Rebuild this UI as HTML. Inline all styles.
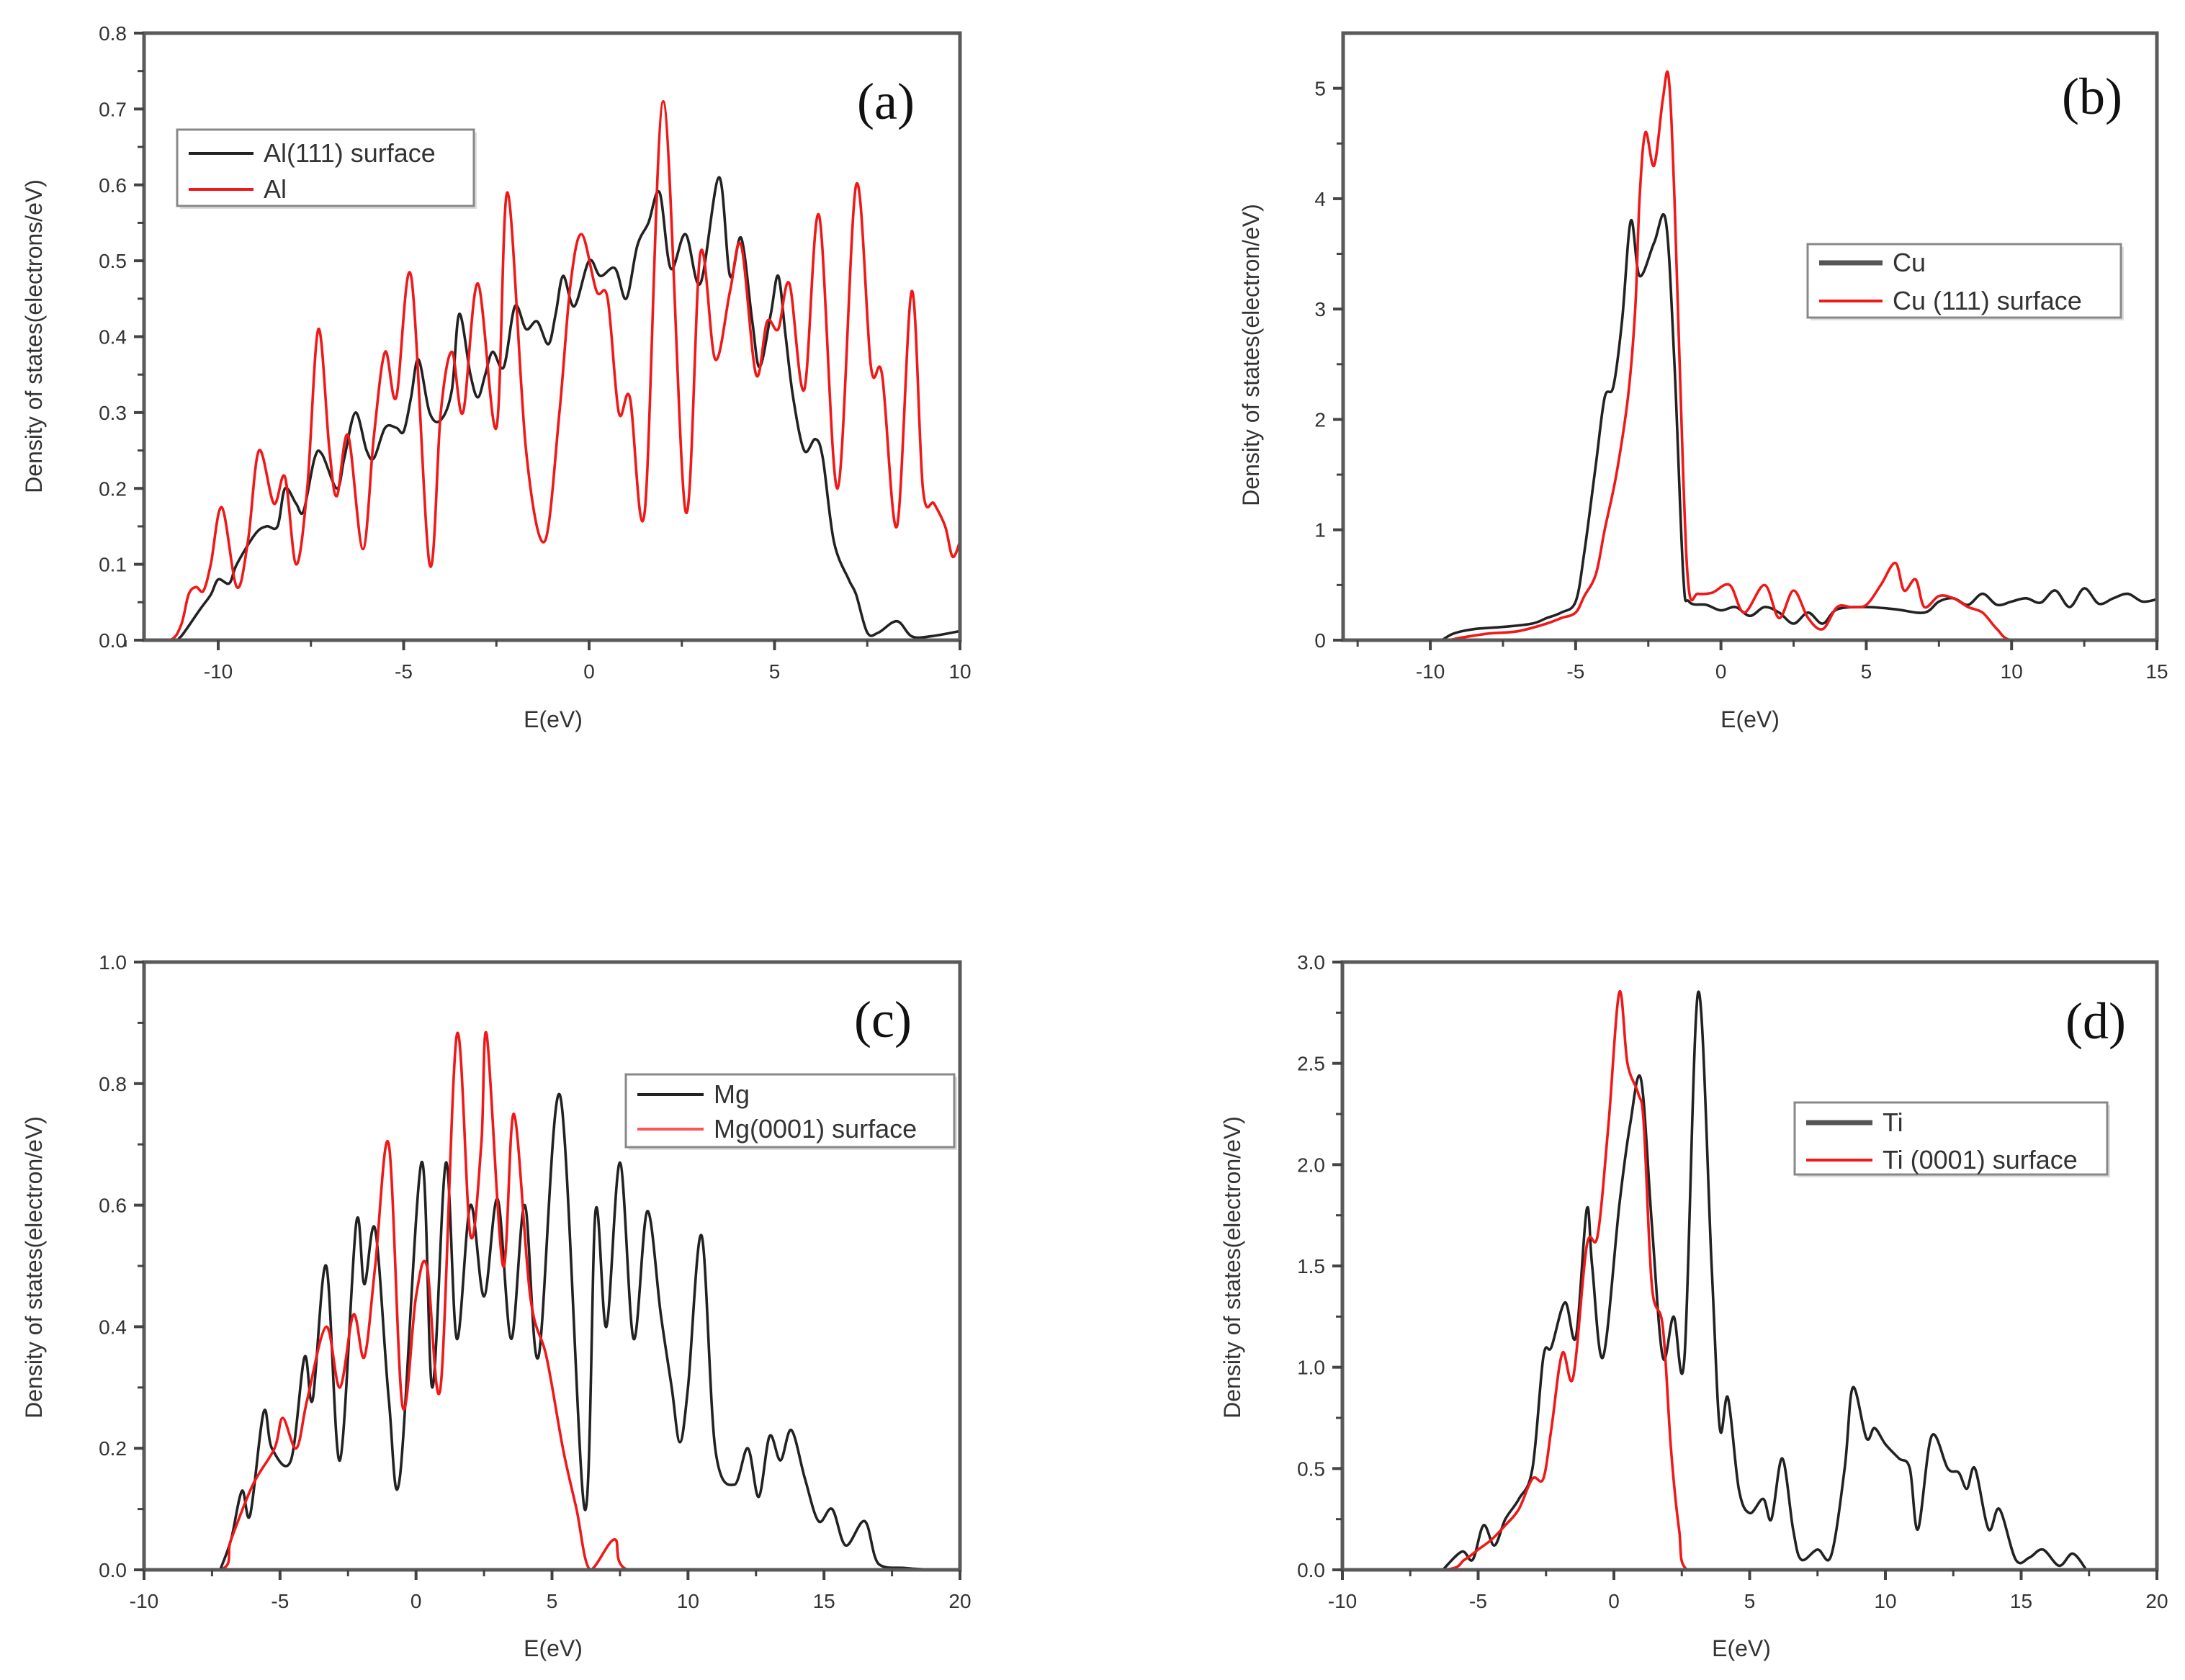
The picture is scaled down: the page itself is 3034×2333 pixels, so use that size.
<!DOCTYPE html>
<html><head><meta charset="utf-8">
<style>
html,body{margin:0;padding:0;background:#fff;}
svg{display:block;}
text{font-family:"Liberation Sans",sans-serif;fill:#333;}
</style></head>
<body>
<svg id="fig" width="3034" height="2333" viewBox="0 0 3034 2333" xmlns="http://www.w3.org/2000/svg"></svg>
<script>
// ---- Panel (a) data ----
const aBlack=[[-12,0],[-11.2,0],[-11,0.005],[-10.5,0.04],[-10.2,0.06],[-10,0.08],[-9.7,0.075],[-9.5,0.1],[-9,0.14],[-8.7,0.15],[-8.4,0.15],[-8.2,0.2],[-7.9,0.18],[-7.7,0.17],[-7.4,0.24],[-7.2,0.245],[-6.8,0.2],[-6.6,0.24],[-6.3,0.3],[-6,0.25],[-5.8,0.24],[-5.5,0.28],[-5.2,0.28],[-5,0.275],[-4.8,0.32],[-4.6,0.37],[-4.3,0.3],[-4,0.29],[-3.7,0.33],[-3.5,0.43],[-3.2,0.35],[-3,0.32],[-2.8,0.35],[-2.6,0.38],[-2.3,0.36],[-2,0.44],[-1.7,0.41],[-1.4,0.42],[-1.1,0.39],[-0.9,0.43],[-0.7,0.48],[-0.4,0.44],[0,0.5],[0.3,0.48],[0.7,0.49],[1,0.45],[1.3,0.52],[1.6,0.55],[1.9,0.59],[2.2,0.49],[2.6,0.535],[3,0.47],[3.5,0.61],[3.8,0.48],[4.1,0.53],[4.4,0.42],[4.6,0.36],[4.9,0.43],[5.1,0.48],[5.3,0.4],[5.5,0.32],[5.8,0.25],[6.1,0.265],[6.3,0.24],[6.6,0.13],[7,0.08],[7.2,0.06],[7.5,0.01],[7.8,0.01],[8.3,0.025],[8.7,0.005],[9.2,0.005],[10,0.012]];
const aRed=[[-12,0],[-11.3,0],[-11,0.02],[-10.8,0.06],[-10.6,0.07],[-10.4,0.065],[-10.2,0.1],[-9.9,0.175],[-9.5,0.07],[-9.2,0.13],[-8.9,0.25],[-8.5,0.18],[-8.2,0.215],[-7.9,0.1],[-7.6,0.2],[-7.3,0.41],[-7.0,0.25],[-6.8,0.19],[-6.5,0.27],[-6.1,0.12],[-5.8,0.27],[-5.5,0.38],[-5.2,0.32],[-4.8,0.48],[-4.3,0.1],[-4.0,0.3],[-3.7,0.38],[-3.4,0.3],[-3.0,0.47],[-2.5,0.28],[-2.2,0.59],[-1.7,0.25],[-1.2,0.13],[-0.8,0.3],[-0.5,0.47],[-0.2,0.535],[0.2,0.46],[0.5,0.45],[0.8,0.3],[1.1,0.32],[1.5,0.17],[2.0,0.71],[2.6,0.17],[3.0,0.51],[3.4,0.37],[3.8,0.46],[4.1,0.52],[4.5,0.35],[4.8,0.42],[5.1,0.41],[5.4,0.47],[5.8,0.33],[6.2,0.56],[6.7,0.2],[7.2,0.6],[7.6,0.36],[7.9,0.35],[8.3,0.15],[8.7,0.46],[9.0,0.2],[9.3,0.18],[9.6,0.15],[9.8,0.11],[10,0.13]];
const aXTicks=[-10,-5,0,5,10];
const aYTicks=["0.0","0.1","0.2","0.3","0.4","0.5","0.6","0.7","0.8"];
// ---- Panel (b) data ----
const bBlack=[[-9.6,0],[-9.2,0.06],[-8.5,0.1],[-7.5,0.12],[-6.5,0.15],[-6,0.2],[-5.5,0.25],[-5,0.35],[-4.7,0.8],[-4.3,1.6],[-4.0,2.2],[-3.7,2.3],[-3.4,2.9],[-3.1,3.8],[-2.8,3.3],[-2.3,3.6],[-1.9,3.8],[-1.6,2.5],[-1.3,0.6],[-1.1,0.35],[-0.5,0.32],[0,0.27],[0.5,0.3],[1,0.22],[1.5,0.3],[2,0.25],[2.5,0.15],[3,0.25],[3.5,0.15],[4,0.28],[5,0.3],[6,0.28],[7,0.25],[7.5,0.35],[8,0.38],[8.5,0.32],[9,0.42],[9.5,0.32],[10,0.35],[10.5,0.38],[11,0.34],[11.5,0.45],[12,0.3],[12.5,0.47],[13,0.33],[13.5,0.38],[14,0.42],[14.5,0.35],[15,0.37]];
const bRed=[[-11,0],[-9.5,0],[-9,0.02],[-8,0.06],[-7,0.08],[-6,0.15],[-5.5,0.2],[-5,0.25],[-4.7,0.4],[-4.3,0.6],[-4,1.0],[-3.6,1.5],[-3.2,2.2],[-2.95,3.0],[-2.8,4.0],[-2.6,4.6],[-2.3,4.3],[-2.0,4.9],[-1.8,5.1],[-1.6,4.0],[-1.3,1.5],[-1.1,0.45],[-0.8,0.42],[-0.3,0.43],[0.3,0.5],[0.8,0.25],[1.5,0.5],[2,0.2],[2.5,0.45],[3,0.2],[3.5,0.1],[4,0.3],[4.5,0.3],[5,0.32],[5.5,0.5],[6,0.7],[6.3,0.45],[6.7,0.55],[7,0.3],[7.5,0.4],[8,0.38],[8.5,0.3],[9,0.25],[9.5,0.1],[10,0],[11.5,0]];
const bXTicks=[-10,-5,0,5,10,15];
const bYTicks=["0","1","2","3","4","5"];
// ---- Panel (c) data ----
const cBlack=[[-7.2,0],[-6.8,0.05],[-6.4,0.13],[-6.1,0.09],[-5.6,0.26],[-5.3,0.2],[-4.6,0.18],[-4.1,0.35],[-3.8,0.28],[-3.3,0.5],[-2.8,0.18],[-2.2,0.57],[-1.9,0.47],[-1.5,0.56],[-1.0,0.28],[-0.6,0.15],[0.2,0.67],[0.6,0.3],[1.1,0.67],[1.5,0.38],[2,0.6],[2.5,0.45],[3,0.61],[3.5,0.38],[4,0.6],[4.5,0.35],[5.3,0.78],[6.2,0.1],[6.6,0.59],[7,0.4],[7.5,0.67],[8,0.38],[8.5,0.59],[9,0.42],[9.4,0.3],[9.7,0.21],[10,0.3],[10.5,0.55],[11,0.2],[11.7,0.14],[12.2,0.2],[12.6,0.12],[13,0.22],[13.4,0.18],[13.8,0.23],[14.3,0.15],[14.8,0.08],[15.3,0.1],[15.8,0.04],[16.5,0.08],[17,0.01],[18,0.003],[19,0]];
const cRed=[[-10,0],[-7.2,0],[-6.8,0.05],[-6,0.14],[-5.2,0.2],[-4.9,0.25],[-4.4,0.2],[-4,0.28],[-3.3,0.4],[-2.8,0.3],[-2.3,0.42],[-1.9,0.35],[-1.5,0.5],[-1.0,0.7],[-0.5,0.27],[0,0.45],[0.4,0.5],[0.9,0.3],[1.5,0.88],[2,0.55],[2.4,0.7],[2.6,0.88],[3.2,0.5],[3.6,0.75],[4.2,0.45],[4.8,0.35],[5.4,0.2],[5.9,0.1],[6.4,0.0],[7.3,0.05],[7.8,0],[11,0]];
const cXTicks=[-10,-5,0,5,10,15,20];
const cYTicks=["0.0","0.2","0.4","0.6","0.8","1.0"];
// ---- Panel (d) data ----
const dBlack=[[-6.3,0],[-5.6,0.09],[-5.2,0.05],[-4.8,0.22],[-4.4,0.12],[-4,0.25],[-3.5,0.35],[-3,0.5],[-2.6,1.05],[-2.3,1.1],[-1.8,1.32],[-1.4,1.15],[-1.0,1.78],[-0.8,1.5],[-0.4,1.05],[0.2,1.8],[0.6,2.2],[1.0,2.42],[1.4,1.7],[1.8,1.05],[2.2,1.25],[2.6,1.05],[3.1,2.85],[3.6,1.5],[3.9,0.7],[4.2,0.85],[4.6,0.4],[5,0.28],[5.5,0.35],[5.8,0.25],[6.2,0.55],[6.6,0.2],[6.9,0.05],[7.5,0.1],[8,0.07],[8.5,0.5],[8.8,0.9],[9.3,0.65],[9.6,0.7],[10,0.62],[10.5,0.55],[10.9,0.5],[11.2,0.2],[11.7,0.66],[12.3,0.5],[12.7,0.48],[13,0.4],[13.3,0.5],[13.8,0.2],[14.2,0.3],[14.8,0.05],[15.3,0.06],[15.8,0.1],[16.4,0.02],[16.9,0.08],[17.4,0]];
const dRed=[[-10,0],[-6.3,0],[-5.5,0.05],[-5,0.1],[-4.5,0.15],[-4,0.22],[-3.5,0.3],[-3,0.45],[-2.6,0.45],[-2.3,0.7],[-1.9,1.07],[-1.5,0.95],[-1.0,1.6],[-0.6,1.65],[-0.2,2.2],[0.2,2.85],[0.5,2.5],[0.9,2.35],[1.1,2.2],[1.4,1.4],[1.8,1.2],[2.1,0.6],[2.4,0.2],[2.7,0.0],[4.4,0]];
const dXTicks=[-10,-5,0,5,10,15,20];
const dYTicks=["0.0","0.5","1.0","1.5","2.0","2.5","3.0"];

const NS="http://www.w3.org/2000/svg";
const svg=document.getElementById('fig');
function mk(tag,attrs,parent){const e=document.createElementNS(NS,tag);for(const k in attrs)e.setAttribute(k,attrs[k]);(parent||svg).appendChild(e);return e;}

function smoothPath(pts,ymaxPx){
  let d="M"+pts[0][0].toFixed(1)+","+pts[0][1].toFixed(1);
  for(let i=0;i<pts.length-1;i++){
    const p0=pts[Math.max(0,i-1)],p1=pts[i],p2=pts[i+1],p3=pts[Math.min(pts.length-1,i+2)];
    const c1x=p1[0]+(p2[0]-p0[0])/6,c1y=Math.min(ymaxPx,p1[1]+(p2[1]-p0[1])/6);
    const c2x=p2[0]-(p3[0]-p1[0])/6,c2y=Math.min(ymaxPx,p2[1]-(p3[1]-p1[1])/6);
    d+=" C"+c1x.toFixed(1)+","+c1y.toFixed(1)+" "+c2x.toFixed(1)+","+c2y.toFixed(1)+" "+p2[0].toFixed(1)+","+p2[1].toFixed(1);
  }
  return d;
}

function panel(cfg){
  const g=mk('g',{});
  
  
  const {L,R,T,B,xmin,xmax,ymin,ymax}=cfg;
  const sx=v=>L+(v-xmin)/(xmax-xmin)*(R-L);
  const sy=v=>B-(v-ymin)/(ymax-ymin)*(B-T);
  cfg.series.forEach(s=>{
    const p=mk('path',{d:smoothPath(s.data.map(q=>[sx(q[0]),sy(q[1])]),B),fill:'none',stroke:s.color,'stroke-width':3.6,'stroke-linejoin':'round'},g);
    
    
  });
  const fr=mk('rect',{x:L,y:T,width:R-L,height:B-T,fill:'none',stroke:'#5a5a5a','stroke-width':5},g);
  
  
  const xt=mk('g',{},g);
  
  
  cfg.xticks.forEach((v,i)=>{
    const x=sx(v);
    mk('line',{x1:x,y1:B,x2:x,y2:B+14,stroke:'#444','stroke-width':4},xt);
    const t=mk('text',{x:x,y:B+53,'font-size':28,'text-anchor':'middle'},xt);
    t.textContent=String(v);
    
    
    if(i<cfg.xticks.length-1){const xm=sx(v+(cfg.xticks[1]-cfg.xticks[0])/2);mk('line',{x1:xm,y1:B,x2:xm,y2:B+9,stroke:'#444','stroke-width':3},xt);}
  });
  if(cfg.xminor0!==undefined){const xm=sx(cfg.xminor0);mk('line',{x1:xm,y1:B,x2:xm,y2:B+9,stroke:'#444','stroke-width':3},xt);}
  const yt=mk('g',{},g);
  
  
  cfg.yticks.forEach((lab,i)=>{
    const v=parseFloat(lab);
    const y=sy(v);
    mk('line',{x1:L-14,y1:y,x2:L,y2:y,stroke:'#444','stroke-width':4},yt);
    const t=mk('text',{x:L-24,y:y+10,'font-size':28,'text-anchor':'end'},yt);
    t.textContent=lab;
    
    
    const st=cfg.yticks.length>1?parseFloat(cfg.yticks[1])-parseFloat(cfg.yticks[0]):0;
    const ym=v+st/2;
    if(ym<ymax){mk('line',{x1:L-9,y1:sy(ym),x2:L,y2:sy(ym),stroke:'#444','stroke-width':3},yt);}
  });
  const xtl=mk('text',{x:(cfg.xtx),y:cfg.xty,'font-size':32,'text-anchor':'middle'},g);
  xtl.textContent='E(eV)';
  
  
  const ytl=mk('text',{x:0,y:0,'font-size':32,'text-anchor':'middle',transform:'translate('+cfg.ytx+','+cfg.yty+') rotate(-90)'},g);
  ytl.textContent=cfg.ytitle;
  
  
  const pl=mk('text',{x:cfg.plx,y:cfg.ply,'font-size':72,'text-anchor':'middle',style:'font-family:"Liberation Serif",serif;fill:#111'},g);
  pl.textContent='('+cfg.id+')';
  
  
  const lg=mk('g',{},g);
  
  
  const Lb=cfg.legend;
  mk('rect',{x:Lb.x+4,y:Lb.y+4,width:Lb.w,height:Lb.h,fill:'#ddd'},lg);
  mk('rect',{x:Lb.x,y:Lb.y,width:Lb.w,height:Lb.h,fill:'#fff',stroke:'#888','stroke-width':3},lg);
  Lb.rows.forEach((r,i)=>{
    const yy=Lb.y+Lb.r0+i*Lb.dy;
    const e=mk('g',{},lg);
    
    
    mk('line',{x1:Lb.x+16,y1:yy,x2:Lb.x+16+Lb.lw,y2:yy,stroke:r.color,'stroke-width':r.w||4},e);
    const t=mk('text',{x:Lb.x+30+Lb.lw,y:yy+12,'font-size':36},e);
    t.textContent=r.label;
  });
}

panel({id:'a',L:200,R:1333,T:46,B:889,xmin:-12,xmax:10,ymin:0,ymax:0.8,xticks:aXTicks,yticks:aYTicks,xminor0:-12.5,
  series:[{name:'line-al-111-surface',color:'#222',data:aBlack},{name:'line-al',color:'#f01818',data:aRed}],
  xtx:768,xty:1010,ytx:58,yty:467,ytitle:'Density of states(electrons/eV)',plx:1230,ply:165,
  legend:{x:246,y:180,w:412,h:106,r0:33,dy:50,lw:90,rows:[{label:'Al(111) surface',color:'#222'},{label:'Al',color:'#f01818'}]}});
panel({id:'b',L:1865,R:2995,T:46,B:889,xmin:-13,xmax:15,ymin:0,ymax:5.5,xticks:bXTicks,yticks:bYTicks,xminor0:-12.5,
  series:[{name:'line-cu',color:'#222',data:bBlack},{name:'line-cu-111-surface',color:'#f01818',data:bRed}],
  xtx:2430,xty:1010,ytx:1748,yty:493,ytitle:'Density of states(electron/eV)',plx:2905,ply:158,
  legend:{x:2510,y:339,w:435,h:102,r0:26,dy:53,lw:88,rows:[{label:'Cu',color:'#555',w:7},{label:'Cu (111) surface',color:'#f01818'}]}});
panel({id:'c',L:200,R:1333,T:1336,B:2180,xmin:-10,xmax:20,ymin:0,ymax:1.0,xticks:cXTicks,yticks:cYTicks,
  series:[{name:'line-mg',color:'#222',data:cBlack},{name:'line-mg-0001-surface',color:'#f01818',data:cRed}],
  xtx:768,xty:2300,ytx:58,yty:1760,ytitle:'Density of states(electron/eV)',plx:1226,ply:1440,
  legend:{x:869,y:1492,w:456,h:101,r0:28,dy:48,lw:92,rows:[{label:'Mg',color:'#222'},{label:'Mg(0001) surface',color:'#f55'}]}});
panel({id:'d',L:1864,R:2995,T:1336,B:2180,xmin:-10,xmax:20,ymin:0,ymax:3.0,xticks:dXTicks,yticks:dYTicks,
  series:[{name:'line-ti',color:'#222',data:dBlack},{name:'line-ti-0001-surface',color:'#f01818',data:dRed}],
  xtx:2418,xty:2300,ytx:1722,yty:1760,ytitle:'Density of states(electron/eV)',plx:2910,ply:1442,
  legend:{x:2492,y:1531,w:434,h:100,r0:28,dy:52,lw:92,rows:[{label:'Ti',color:'#555',w:7},{label:'Ti (0001) surface',color:'#f01818'}]}});
</script>
</body></html>
